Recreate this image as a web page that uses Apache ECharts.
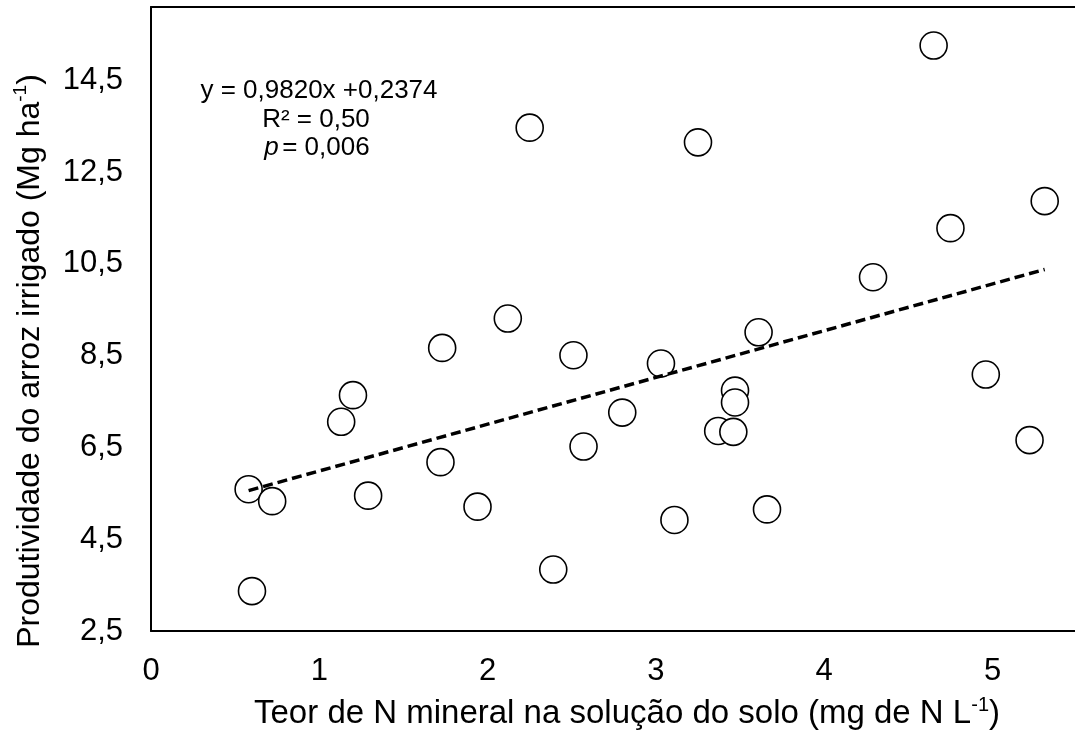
<!DOCTYPE html>
<html>
<head>
<meta charset="utf-8">
<script src="https://cdn.jsdelivr.net/npm/echarts@6/dist/echarts.min.js"></script>
<style>html,body{margin:0;padding:0;background:#fff;}#c{width:1075px;height:731px;}</style>
</head>
<body>
<div id="c"></div>
<script>
// Data
var nMineral = [0.58,0.60,0.72,1.13,1.20,1.29,1.73,1.72,1.94,2.12,2.25,2.39,2.51,2.57,2.80,3.03,3.11,3.25,3.37,3.46,3.47,3.47,3.61,3.66,4.29,4.65,4.75,4.96,5.22,5.31];
var produtividade = [5.59,3.37,5.33,7.06,7.64,5.45,8.67,6.18,5.21,9.31,13.47,3.84,8.51,6.52,7.26,8.33,4.92,13.15,6.86,6.84,7.74,7.48,9.01,5.15,10.21,15.26,11.28,8.09,6.66,11.87];
var trendX = [0.58, 5.31];
var trendY = [5.56, 10.38];
var xTicks = {min: 0, max: 5.49, interval: 1};
var yTicks = {min: 2.5, max: 16.1, interval: 2};
var equationLines = ['y = 0,9820x +0,2374', 'R² = 0,50', '= 0,006'];

var points = nMineral.map(function (x, i) { return [x, produtividade[i]]; });
var trend = trendX.map(function (x, i) { return [x, trendY[i]]; });

var FONT = '"Liberation Sans", Arial, sans-serif';
var chart = echarts.init(document.getElementById('c'), null, {renderer: 'canvas'});
chart.setOption({
  backgroundColor: '#fff',
  animation: false,
  grid: {left: 151, top: 7, bottom: 100, right: 0, show: false, containLabel: false},
  xAxis: [{
    type: 'value', min: xTicks.min, max: xTicks.max, interval: xTicks.interval,
    axisLine: {show: true, lineStyle: {color: '#000', width: 2}},
    axisTick: {show: false},
    splitLine: {show: false},
    axisLabel: {color: '#000', fontSize: 31, fontFamily: FONT, margin: 25, showMaxLabel: false}
  }, {
    type: 'value', position: 'top', min: xTicks.min, max: xTicks.max,
    axisLine: {show: true, onZero: false, lineStyle: {color: '#000', width: 2}},
    axisTick: {show: false}, axisLabel: {show: false}, splitLine: {show: false}
  }],
  yAxis: {
    type: 'value', min: yTicks.min, max: yTicks.max, interval: yTicks.interval,
    axisLine: {show: true, lineStyle: {color: '#000', width: 2}},
    axisTick: {show: false},
    splitLine: {show: false},
    axisLabel: {color: '#000', fontSize: 31, fontFamily: FONT, margin: 28, showMaxLabel: false,
      formatter: function (v) { return String(v).replace('.', ','); }}
  },
  graphic: [
    {type: 'text', x: 627, y: 714, style: {
      text: '{a|Teor de N mineral na solução do solo (mg de N L}{s|-1}{a|)}',
      align: 'center', verticalAlign: 'middle',
      rich: {a: {fontSize: 33, fontFamily: FONT, fill: '#000', lineHeight: 38},
             s: {fontSize: 20, fontFamily: FONT, fill: '#000', lineHeight: 38, verticalAlign: 'top'}}
    }},
    {type: 'text', x: 30, y: 361, rotation: Math.PI / 2, style: {
      text: '{a|Produtividade do arroz irrigado (Mg ha}{s|-1}{a|)}',
      align: 'center', verticalAlign: 'middle',
      rich: {a: {fontSize: 32, fontFamily: FONT, fill: '#000', lineHeight: 37},
             s: {fontSize: 19, fontFamily: FONT, fill: '#000', lineHeight: 37, verticalAlign: 'top'}}
    }},
    {type: 'text', x: 319, y: 91, style: {text: equationLines[0], align: 'center', verticalAlign: 'middle', fontSize: 26, fontFamily: FONT, fill: '#000'}},
    {type: 'text', x: 316, y: 120, style: {text: equationLines[1], align: 'center', verticalAlign: 'middle', fontSize: 26, fontFamily: FONT, fill: '#000'}},
    {type: 'text', x: 317, y: 148, style: {
      text: '{i|p} {a|' + equationLines[2] + '}', align: 'center', verticalAlign: 'middle',
      rich: {i: {fontSize: 26, fontFamily: FONT, fontStyle: 'italic', fill: '#000'},
             a: {fontSize: 26, fontFamily: FONT, fill: '#000'}}
    }}
  ],
  series: [
    {type: 'scatter', data: points, xAxisIndex: 0, symbol: 'circle', symbolSize: 27, z: 2,
      itemStyle: {color: '#fff', borderColor: '#000', borderWidth: 1.6, opacity: 1}},
    {type: 'line', data: trend, xAxisIndex: 0, symbol: 'none', z: 3,
      lineStyle: {color: '#000', width: 3.5, type: [10, 5]}}
  ]
});
</script>
</body>
</html>
